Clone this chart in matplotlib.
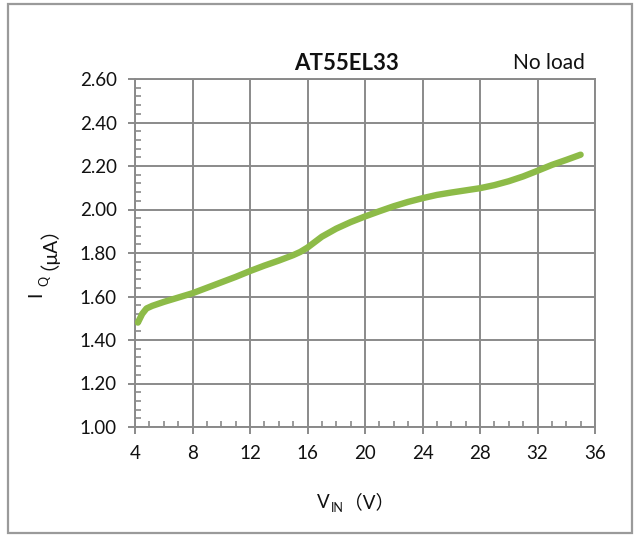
import matplotlib
matplotlib.use("Agg")
import matplotlib.pyplot as plt
from matplotlib.patches import Rectangle
from matplotlib.ticker import MultipleLocator, FormatStrFormatter
import numpy as np

# quiescent current vs input voltage
vin = [4.2, 4.5, 4.8, 5.2, 6, 7, 8, 9, 10, 11, 12, 13, 14, 15, 15.5, 16, 16.5, 17,
       18, 19, 20, 21, 22, 23, 24, 25, 26, 27, 28, 29, 30, 31, 32, 33, 34, 35]
iq = [1.48, 1.52, 1.545, 1.557, 1.575, 1.595, 1.615, 1.64, 1.665, 1.69, 1.717,
      1.742, 1.765, 1.79, 1.805, 1.825, 1.85, 1.875, 1.912, 1.942, 1.968, 1.992,
      2.015, 2.035, 2.052, 2.067, 2.078, 2.088, 2.098, 2.112, 2.13, 2.152, 2.178,
      2.205, 2.228, 2.252]

x_ticks = [4, 8, 12, 16, 20, 24, 28, 32, 36]
y_ticks = [1.00, 1.20, 1.40, 1.60, 1.80, 2.00, 2.20, 2.40, 2.60]

font = ["Lato", "Noto Sans CJK SC", "DejaVu Sans"]
plt.rcParams["font.family"] = font

grid_c = "#8a8a8a"
txt_c = "#111111"
fig = plt.figure(figsize=(6.36, 5.36), dpi=100)
fig.patch.set_facecolor("white")

# outer frame
fig.add_artist(Rectangle((8 / 636, 1 - 533 / 536), 624 / 636, 529 / 536,
                         transform=fig.transFigure, fill=False,
                         edgecolor="#9a9a9a", linewidth=1.6))

ax = fig.add_axes([135 / 636, 1 - 427 / 536, 460 / 636, 348 / 536])
ax.plot(vin, iq, color="#8dbb48", linewidth=4.6, solid_capstyle="round",
        solid_joinstyle="round", zorder=3)

ax.set_xlim(4, 36)
ax.set_ylim(1.0, 2.6)
ax.set_xticks(x_ticks)
ax.set_yticks(y_ticks)
ax.yaxis.set_major_formatter(FormatStrFormatter("%.2f"))
ax.xaxis.set_minor_locator(MultipleLocator(1))
ax.yaxis.set_minor_locator(MultipleLocator(0.04))
ax.grid(True, which="major", color=grid_c, linewidth=1.4)
ax.tick_params(which="major", direction="out", length=5, width=1.4,
               color=grid_c, labelsize=13.5, pad=8, labelcolor=txt_c)
ax.tick_params(which="minor", direction="in", length=4, width=1.2, color=grid_c)
for s in ax.spines.values():
    s.set_color(grid_c)
    s.set_linewidth(1.4)

# titles inside the frame
fig.text(346 / 636, 1 - 63 / 536, "AT55EL33", ha="center", va="center",
         fontsize=16, fontweight="bold", color=txt_c)
fig.text(549 / 636, 1 - 63 / 536, "No load", ha="center", va="center",
         fontsize=15, color=txt_c)

# x label: V_IN（V）
fig.text(317 / 636, 1 - 502 / 536, "V", ha="left", va="center", fontsize=13.5,
         color=txt_c)
fig.text(331 / 636, 1 - 508 / 536, "IN", ha="left", va="center", fontsize=9,
         color=txt_c)
fig.text(344 / 636, 1 - 502 / 536, "（V）", ha="left", va="center", fontsize=13.5,
         color=txt_c)

# y label: I_Q（μA）
fig.text(36 / 636, 1 - 297 / 536, "I", ha="center", va="bottom", rotation=90,
         fontsize=13.5, color=txt_c)
fig.text(44 / 636, 1 - 286 / 536, "Q", ha="center", va="bottom", rotation=90,
         fontsize=9, color=txt_c)
fig.text(38 / 636, 1 - 270 / 536, "（μA）", ha="center", va="bottom", rotation=90,
         fontsize=14, color=txt_c)

fig.savefig("out.png", dpi=100)
